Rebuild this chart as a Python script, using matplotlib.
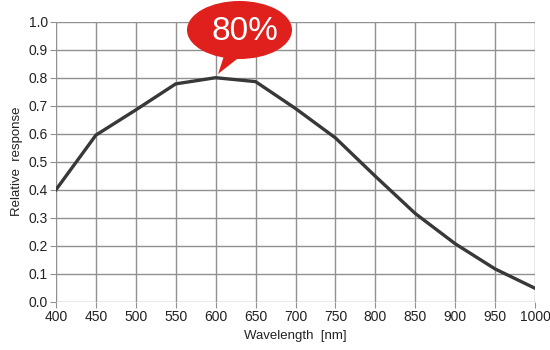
import matplotlib.pyplot as plt
import numpy as np
from matplotlib.patches import Ellipse, Polygon

wavelength = [400, 450, 500, 550, 600, 650, 700, 750, 800, 850, 900, 950, 1000]
response = [0.40, 0.595, 0.685, 0.778, 0.80, 0.786, 0.69, 0.585, 0.448, 0.315, 0.207, 0.117, 0.048]
peak_label = "80%"

plt.rcParams['font.family'] = ['Liberation Sans Narrow', 'Liberation Sans', 'DejaVu Sans']

W, H = 550, 350
fig = plt.figure(figsize=(W / 100, H / 100), dpi=100)
ax = fig.add_axes([56 / W, 1 - 301.7 / H, (535 - 56) / W, (301.7 - 21.7) / H])

ax.plot(wavelength, response, color="#383838", linewidth=2.4, solid_joinstyle="round", zorder=3)

ax.set_xlim(400, 1000)
ax.set_ylim(0, 1.0)
ax.set_xticks(np.arange(400, 1001, 50))
ax.set_yticks(np.arange(0, 1.01, 0.1))
ax.set_yticklabels(["%.1f" % v for v in np.arange(0, 1.01, 0.1)])
ax.grid(True, color="#909090", linewidth=1.0)
for s in ax.spines.values():
    s.set_visible(False)
ax.tick_params(length=4, color="#909090", labelsize=10, labelcolor="#222222", pad=2)
ax.set_xlabel("Wavelength  [nm]", fontsize=9.5, color="#222222", labelpad=4)
ax.set_ylabel("Relative  response", fontsize=9.5, color="#222222", labelpad=4)

# speech bubble (figure pixel coords, y from top)
def px(x, y):
    return (x / W, 1 - y / H)

red = "#e0201c"
bubble = Ellipse(px(239.5, 30), 105 / W, 58 / H, transform=fig.transFigure,
                 facecolor=red, edgecolor="none", zorder=10)
tail = Polygon([px(226, 50), px(246, 52), px(218, 74)], closed=True,
               transform=fig.transFigure, facecolor=red, edgecolor="none", zorder=10)
fig.patches.extend([bubble, tail])
fig.text(*px(245, 32), peak_label, color="white", fontsize=24, ha="center", va="center",
         family=['Liberation Sans', 'DejaVu Sans'], zorder=11)

plt.savefig("out.png", dpi=100)
